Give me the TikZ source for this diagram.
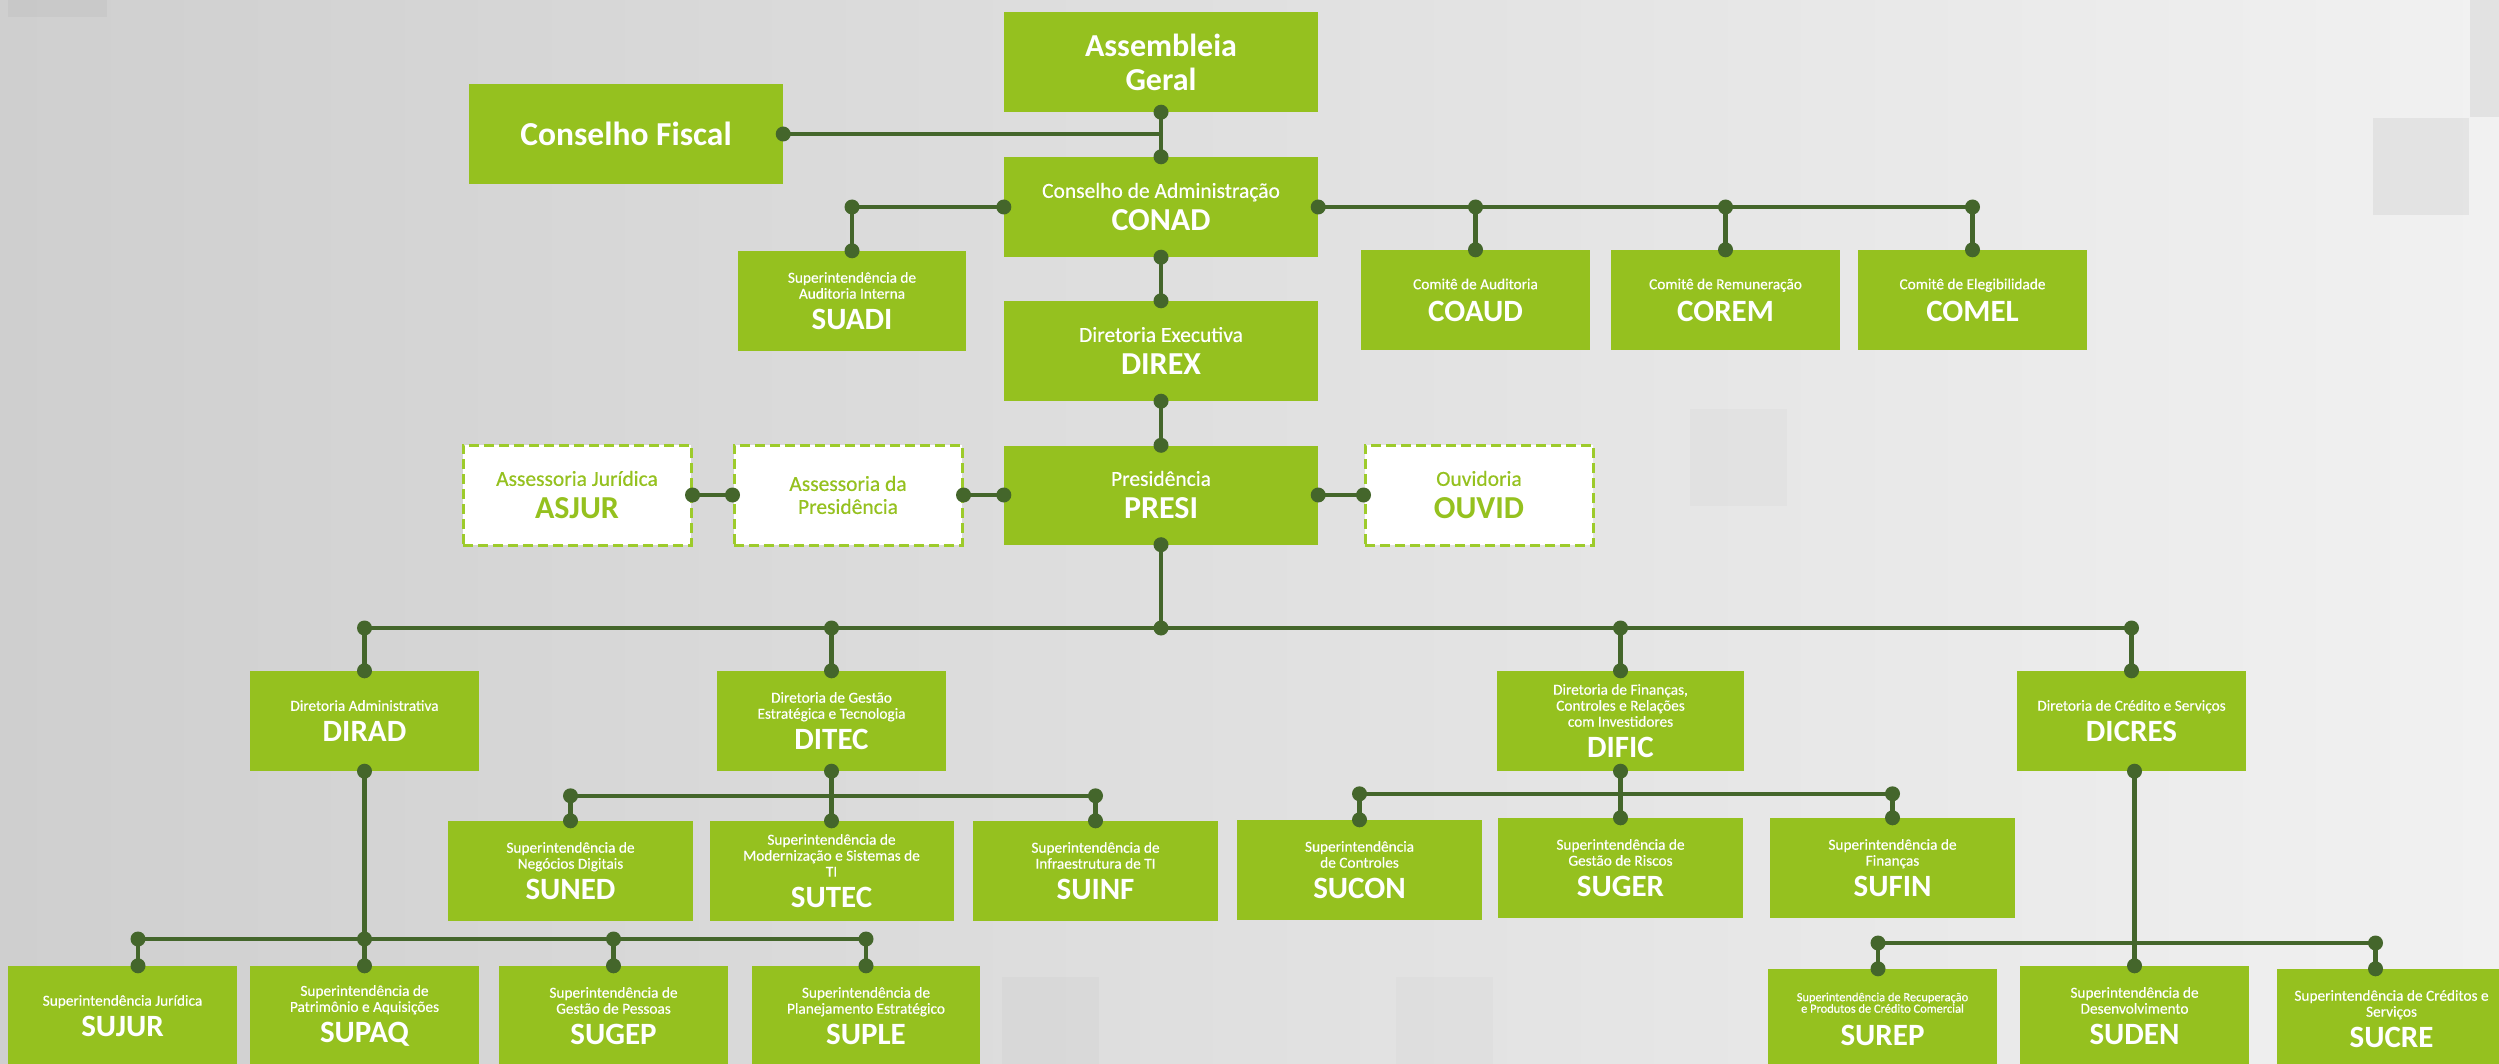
\documentclass[tikz,border=0pt]{standalone}
\usepackage{fontspec}
\setmainfont{Carlito}
\newfontfamily\medf{Carlito}[FakeBold=0.45]
\usetikzlibrary{calc}
\definecolor{gfill}{RGB}{149,193,31}
\definecolor{gdash}{RGB}{157,203,43}
\definecolor{gtext}{RGB}{149,193,31}
\definecolor{lineg}{RGB}{68,102,43}
\definecolor{bgL}{RGB}{207,207,207}
\definecolor{bgR}{RGB}{241,241,241}
\newcommand\subS{\medf\fontsize{15.3}{16}\selectfont}
\newcommand\subM{\medf\fontsize{21.5}{23}\selectfont}
\newcommand\subT{\medf\fontsize{12.4}{11.5}\selectfont}
\newcommand\ttl{\normalfont\fontsize{31}{31}\selectfont\bfseries}
\newcommand\ttlT{\normalfont\fontsize{31}{32}\selectfont\bfseries}
\newcommand\ttlL{\normalfont\fontsize{32}{33}\selectfont\bfseries}
\tikzset{
  gbox/.style={fill=gfill, text=white, inner sep=0pt, align=flush center, minimum height=100pt},
  dbox/.style={fill=white, draw=gdash, line width=3pt, dash pattern=on 10pt off 5pt,
               text=gtext, inner sep=0pt, align=flush center, minimum height=100pt},
  bw/.style={text width=#1},
  conn/.style={draw=lineg, line width=4.5pt},
}
\begin{document}
\begin{tikzpicture}[x=1pt,y=-1pt]
\useasboundingbox (0,0) rectangle (2499,1064);
\clip (0,0) rectangle (2499,1064);
% background
\fill[left color=bgL, right color=bgR] (0,0) rectangle (2499,1064);
\fill[black, opacity=0.05] (2373,118) rectangle (2469,215);
\fill[black, opacity=0.06] (2470,0) rectangle (2499,117);
\fill[black, opacity=0.02] (1690,409) rectangle (1787,506);
\fill[black, opacity=0.02] (1002,977) rectangle (1099,1064);
\fill[black, opacity=0.015] (1396,977) rectangle (1493,1064);
\fill[black, opacity=0.03] (8,0) rectangle (107,17);

% top level
\node[gbox, bw=314pt] (AG) at (1161,62) {\normalfont\fontsize{32}{34}\selectfont\bfseries Assembleia\\Geral\par};
\node[gbox, bw=314pt] (CF) at (626,134) {\normalfont\fontsize{33.5}{34}\selectfont\bfseries Conselho Fiscal\par};
\node[gbox, bw=314pt] (CONAD) at (1161,207) {{\subM Conselho de Administração\par}{\ttlL CONAD\par}};
\node[gbox, bw=228pt] (SUADI) at (852,301) {{\subS Superintendência de\\Auditoria Interna\par}{\ttl SUADI\par}};
\node[gbox, bw=229pt] (COAUD) at (1475.5,300) {{\subS Comitê de Auditoria\par}{\ttlT COAUD\par}};
\node[gbox, bw=229pt] (COREM) at (1725.5,300) {{\subS Comitê de Remuneração\par}{\ttlT COREM\par}};
\node[gbox, bw=229pt] (COMEL) at (1972.5,300) {{\subS Comitê de Elegibilidade\par}{\ttlT COMEL\par}};
\node[gbox, bw=314pt] (DIREX) at (1161,351) {{\subM Diretoria Executiva\par}{\ttlL DIREX\par}};

% presidency row
\node[dbox, bw=228pt] (ASJUR) at (577,495) {{\subM Assessoria Jurídica\par}{\ttlL ASJUR\par}};
\node[dbox, bw=228pt] (ASPRE) at (848,495) {{\subM Assessoria da\\Presidência\par}};
\node[gbox, bw=314pt, minimum height=99pt] (PRESI) at (1161,495) {{\subM Presidência\par}{\ttlL PRESI\par}};
\node[dbox, bw=228pt] (OUVID) at (1479,495) {{\subM Ouvidoria\par}{\ttlL OUVID\par}};

% directorates
\node[gbox, bw=229pt] (DIRAD) at (364.5,721) {{\subS Diretoria Administrativa\par}{\ttl DIRAD\par}};
\node[gbox, bw=229pt] (DITEC) at (831.5,721) {{\subS Diretoria de Gestão\\Estratégica e Tecnologia\par}{\ttl DITEC\par}};
\node[gbox, bw=247pt] (DIFIC) at (1620.5,721) {{\subS Diretoria de Finanças,\\Controles e Relações\\com Investidores\par}{\ttl DIFIC\par}};
\node[gbox, bw=229pt] (DICRES) at (2131.5,721) {{\subS Diretoria de Crédito e Serviços\par}{\ttl DICRES\par}};

% DITEC units
\node[gbox, bw=245pt] (SUNED) at (570.5,871) {{\subS Superintendência de\\Negócios Digitais\par}{\ttl SUNED\par}};
\node[gbox, bw=244pt] (SUTEC) at (831.5,871) {{\subS Superintendência de\\Modernização e Sistemas de\\TI\par}{\ttl SUTEC\par}};
\node[gbox, bw=245pt] (SUINF) at (1095.5,871) {{\subS Superintendência de\\Infraestrutura de TI\par}{\ttl SUINF\par}};

% DIFIC units
\node[gbox, bw=245pt] (SUCON) at (1359.5,870) {{\subS Superintendência\\de Controles\par}{\ttl SUCON\par}};
\node[gbox, bw=245pt] (SUGER) at (1620.5,868) {{\subS Superintendência de\\Gestão de Riscos\par}{\ttl SUGER\par}};
\node[gbox, bw=245pt] (SUFIN) at (1892.5,868) {{\subS Superintendência de\\Finanças\par}{\ttl SUFIN\par}};

% DIRAD units
\node[gbox, bw=229pt] (SUJUR) at (122.5,1016) {{\subS Superintendência Jurídica\par}{\ttl SUJUR\par}};
\node[gbox, bw=229pt] (SUPAQ) at (364.5,1016) {{\subS Superintendência de\\Patrimônio e Aquisições\par}{\ttl SUPAQ\par}};
\node[gbox, bw=229pt] (SUGEP) at (613.5,1016) {{\subS Superintendência de\\Gestão de Pessoas\par}{\ttl SUGEP\par}};
\node[gbox, bw=228pt] (SUPLE) at (866,1016) {{\subS Superintendência de\\Planejamento Estratégico\par}{\ttl SUPLE\par}};

% DICRES units
\node[gbox, bw=229pt] (SUREP) at (1882.5,1019) {{\subT Superintendência de Recuperação\\e Produtos de Crédito Comercial\par}{\normalfont\fontsize{31}{32.5}\selectfont\bfseries SUREP\par}};
\node[gbox, bw=229pt] (SUDEN) at (2134.5,1016) {{\subS Superintendência de\\Desenvolvimento\par}{\ttl SUDEN\par}};
\node[gbox, bw=229pt] (SUCRE) at (2391.5,1019) {{\subS Superintendência de Créditos e\\Serviços\par}{\ttl SUCRE\par}};

% junction coordinates
\coordinate (cF) at (CF.east -| AG.south);
\coordinate (cS) at (CONAD.west -| SUADI.north);
\coordinate (cA) at (CONAD.east -| COAUD.north);
\coordinate (cR) at (CONAD.east -| COREM.north);
\coordinate (cM) at (CONAD.east -| COMEL.north);
\coordinate (bus) at (1161,628);
\coordinate (bA) at (bus -| DIRAD.north);
\coordinate (bT) at (bus -| DITEC.north);
\coordinate (bF) at (bus -| DIFIC.north);
\coordinate (bC) at (bus -| DICRES.north);
\coordinate (tL) at ($(SUNED.north)+(0,-25)$);
\coordinate (tR) at (tL -| SUINF.north);
\coordinate (fL) at ($(SUCON.north)+(0,-26)$);
\coordinate (fR) at (fL -| SUFIN.north);
\coordinate (aJ) at (138,939);
\coordinate (aP) at (aJ -| SUPAQ.north);
\coordinate (aG) at (aJ -| SUGEP.north);
\coordinate (aL) at (aJ -| SUPLE.north);
\coordinate (aJt) at (aJ |- SUJUR.north);
\coordinate (rL) at (1878,943);
\coordinate (rR) at (2375.5,943);
\coordinate (rLt) at (rL |- SUREP.north);
\coordinate (rRt) at (rR |- SUCRE.north);
\coordinate (dC) at (SUDEN.north |- DICRES.south);

% connectors
\draw[conn] (AG.south) -- (CONAD.north);
\draw[conn] (CF.east) -- (cF);
\draw[conn] (CONAD.west) -- (cS) -- (SUADI.north);
\draw[conn] (CONAD.east) -- (cM) -- (COMEL.north);
\draw[conn] (cA) -- (COAUD.north);
\draw[conn] (cR) -- (COREM.north);
\draw[conn] (CONAD.south) -- (DIREX.north);
\draw[conn] (DIREX.south) -- (PRESI.north);
\draw[conn] (ASJUR.east) -- (ASPRE.west);
\draw[conn] (ASPRE.east) -- (PRESI.west);
\draw[conn] (PRESI.east) -- (OUVID.west);
\draw[conn] (PRESI.south) -- (bus);
\draw[conn] (bA) -- (bC);
\draw[conn] (bA) -- (DIRAD.north);
\draw[conn] (bT) -- (DITEC.north);
\draw[conn] (bF) -- (DIFIC.north);
\draw[conn] (bC) -- (DICRES.north);
\draw[conn] (DITEC.south) -- (SUTEC.north);
\draw[conn] (tL) -- (tR);
\draw[conn] (tL) -- (SUNED.north);
\draw[conn] (tR) -- (SUINF.north);
\draw[conn] (DIFIC.south) -- (SUGER.north);
\draw[conn] (fL) -- (fR);
\draw[conn] (fL) -- (SUCON.north);
\draw[conn] (fR) -- (SUFIN.north);
\draw[conn] (DIRAD.south) -- (SUPAQ.north);
\draw[conn] (aJ) -- (aL);
\draw[conn] (aJ) -- (aJt);
\draw[conn] (aG) -- (SUGEP.north);
\draw[conn] (aL) -- (SUPLE.north);
\draw[conn] (dC) -- (SUDEN.north);
\draw[conn] (rL) -- (rR);
\draw[conn] (rL) -- (rLt);
\draw[conn] (rR) -- (rRt);

% dots
\foreach \p in {AG.south, CONAD.north, CF.east, CONAD.west, cS, SUADI.north,
  CONAD.east, cA, cR, cM, COAUD.north, COREM.north, COMEL.north,
  CONAD.south, DIREX.north, DIREX.south, PRESI.north,
  ASJUR.east, ASPRE.west, ASPRE.east, PRESI.west, PRESI.east, OUVID.west,
  PRESI.south, bus, bA, bT, bF, bC, DIRAD.north, DITEC.north, DIFIC.north, DICRES.north,
  DITEC.south, tL, tR, SUNED.north, SUINF.north, SUTEC.north,
  DIFIC.south, fL, fR, SUCON.north, SUFIN.north, SUGER.north,
  DIRAD.south, aP, aJ, aG, aL, aJt, SUPAQ.north, SUGEP.north, SUPLE.north,
  dC, SUDEN.north, rL, rR, rLt, rRt}
  \fill[lineg] (\p) circle[radius=7.5pt];
\end{tikzpicture}
\end{document}
